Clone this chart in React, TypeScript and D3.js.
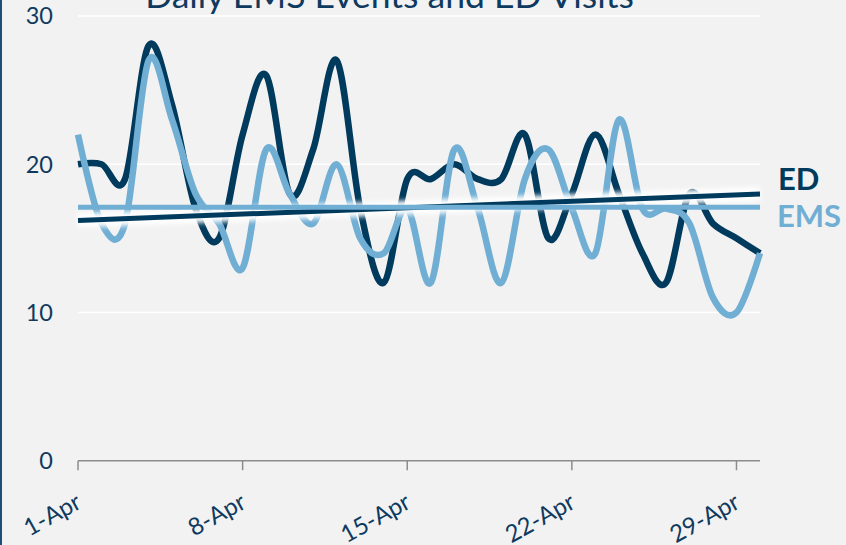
import * as d3 from 'd3';

// ── data ──────────────────────────────────────────────────────
const days = d3.range(1, 31);
const edVisits = [20, 20, 19, 28, 24, 17, 15, 22, 26, 18, 21, 27, 17, 12, 19, 19, 20, 19, 19, 22, 15, 18, 22, 18, 14, 12, 18, 16, 15, 14];
const emsEvents = [22, 16, 16, 27, 23, 18, 16, 13, 21, 18, 16, 20, 15, 14, 17, 12, 21, 17, 12, 19, 21, 17, 14, 23, 17, 17, 16, 11, 10, 14];
// trend lines: value on the first and last day
const edTrend = [16.2, 18.0];
const emsTrend = [17.1, 17.1];
const yTicks = [0, 10, 20, 30];
const xTickDays = [1, 8, 15, 22, 29];

const W = 846, H = 545;
const NAVY = '#003a5d';
const LIGHT = '#71aed4';
const TEXT = '#0f3a5f';
const FONT = 'Lato, "Open Sans", sans-serif';

const toDate = (d: number) => new Date(2020, 3, d);

export default function App() {
  const x = d3.scaleTime().domain([toDate(1), toDate(30)]).range([78, 760]);
  const y = d3.scaleLinear().domain([0, 30]).range([460.7, 16]);
  const fmt = d3.timeFormat('%-d-%b');

  const line = d3.line<number>()
    .x((_, i) => x(toDate(days[i])))
    .y(v => y(v))
    .curve(d3.curveCardinal.tension(0));

  const trendPath = (t: number[]) =>
    d3.line<number>()
      .x((_, i) => x(toDate(i === 0 ? days[0] : days[days.length - 1])))
      .y(v => y(v))(t) || '';

  return (
    <svg width={W} height={H} style={{ position: 'absolute', left: 0, top: 0, display: 'block' }}
      fontFamily={FONT}>
      <defs>
        <filter id="glow" x="-5%" y="-200%" width="110%" height="500%">
          <feGaussianBlur stdDeviation="2.5" />
        </filter>
      </defs>
      <rect width={W} height={H} fill="#f2f2f2" />
      <rect x={0} y={0} width={2} height={H} fill="#1f4e79" />

      <text x={389.5} y={8} textAnchor="middle" fontSize={35.5} fill={TEXT}>
        Daily EMS Events and ED Visits
      </text>

      {/* gridlines */}
      {yTicks.filter(t => t > 0).map(t => (
        <line key={t} x1={78} x2={760} y1={y(t)} y2={y(t)} stroke="#ffffff" strokeWidth={1.5} />
      ))}

      {/* y labels */}
      {yTicks.map(t => (
        <text key={t} x={53} y={y(t)} dy="0.36em" textAnchor="end" fontSize={23.5} fill={TEXT}>{t}</text>
      ))}

      {/* x axis */}
      <line x1={78} x2={760} y1={y(0)} y2={y(0)} stroke="#8c8c8c" strokeWidth={1.5} />
      {xTickDays.map(d => (
        <g key={d}>
          <line x1={x(toDate(d))} x2={x(toDate(d))} y1={y(0)} y2={y(0) + 9.5} stroke="#8c8c8c" strokeWidth={1.5} />
          <text transform={`translate(${x(toDate(d)) + 5},${507}) rotate(-29)`} textAnchor="end"
            fontSize={24} fill={TEXT}>{fmt(toDate(d))}</text>
        </g>
      ))}

      {/* series */}
      <path d={line(edVisits) || ''} fill="none" stroke={NAVY} strokeWidth={6.5} strokeLinejoin="round" />
      <path d={line(emsEvents) || ''} fill="none" stroke={LIGHT} strokeWidth={6.5} strokeLinejoin="round" />

      {/* trend lines with soft white glow */}
      <path d={trendPath(edTrend)} stroke="#ffffff" strokeWidth={14} filter="url(#glow)" fill="none" />
      <path d={trendPath(edTrend)} stroke={NAVY} strokeWidth={5} fill="none" />
      <path d={trendPath(emsTrend)} stroke="#ffffff" strokeWidth={14} filter="url(#glow)" fill="none" />
      <path d={trendPath(emsTrend)} stroke={LIGHT} strokeWidth={5} fill="none" />

      {/* end labels */}
      <text x={778} y={190} fontSize={31} fontWeight="bold" fill={NAVY}>ED</text>
      <text x={777} y={227} fontSize={31} fontWeight="bold" fill={LIGHT}>EMS</text>
    </svg>
  );
}
